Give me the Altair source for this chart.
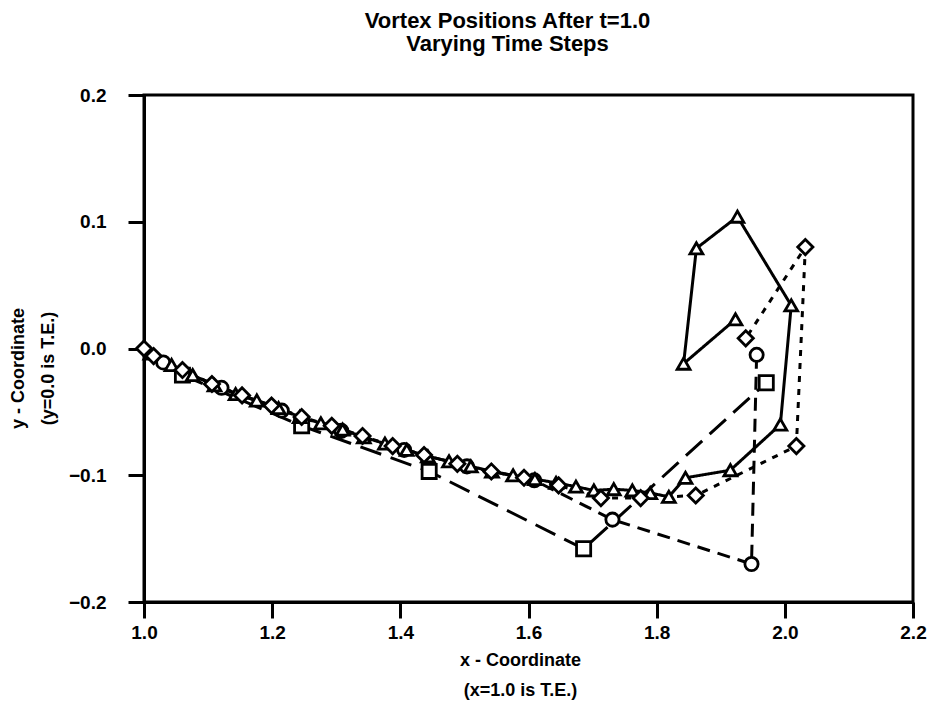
import altair as alt
import pandas as pd

# Vortex positions at t = 1.0 for four time-step sizes
SQ_X = [1.060, 1.246, 1.445, 1.686, 1.971]
SQ_Y = [-0.021, -0.061, -0.097, -0.158, -0.027]

CI_X = [1.030, 1.121, 1.215, 1.308, 1.406, 1.504, 1.609, 1.731, 1.948, 1.956]
CI_Y = [-0.011, -0.031, -0.049, -0.065, -0.080, -0.093, -0.104, -0.135, -0.170, -0.005]

TR_X = [1.010, 1.043, 1.076, 1.110, 1.143, 1.176, 1.210, 1.243, 1.276,
        1.310, 1.343, 1.376, 1.410, 1.443, 1.476, 1.510, 1.543, 1.576, 1.610,
        1.643, 1.674, 1.702, 1.733, 1.762, 1.790, 1.819, 1.845, 1.915, 1.993,
        2.010, 1.926, 1.862, 1.842, 1.923]
TR_Y = [-0.004, -0.013, -0.021, -0.029, -0.036, -0.041, -0.047, -0.054, -0.059,
        -0.064, -0.070, -0.075, -0.080, -0.085, -0.089, -0.093, -0.097, -0.100, -0.103,
        -0.106, -0.109, -0.112, -0.111, -0.112, -0.114, -0.117, -0.102, -0.096, -0.060,
        0.034, 0.104, 0.079, -0.012, 0.023]

DI_X = [1.000, 1.015, 1.060, 1.106, 1.153, 1.199, 1.246, 1.293, 1.341, 1.388,
        1.437, 1.489, 1.542, 1.593, 1.647, 1.713, 1.775, 1.861, 2.018, 2.032, 1.939]
DI_Y = [0.000, -0.006, -0.017, -0.028, -0.037, -0.045, -0.054, -0.061, -0.069, -0.077,
        -0.084, -0.091, -0.097, -0.102, -0.108, -0.118, -0.118, -0.116, -0.077, 0.080, 0.008]

FONT = "Liberation Sans"

# (x values, y values, marker shape, dash pattern, marker size)
SERIES = [
    (SQ_X, SQ_Y, "square", [22, 10], 200),
    (CI_X, CI_Y, "circle", [13, 8], 175),
    (TR_X, TR_Y, "triangle-up", [1, 0], 165),
    (DI_X, DI_Y, "diamond", [6, 7], 230),
]

x_scale = alt.Scale(domain=[1.0, 2.2], nice=False, zero=False)
y_scale = alt.Scale(domain=[-0.2, 0.2], nice=False, zero=False)

x_axis = alt.Axis(
    values=[1.0, 1.2, 1.4, 1.6, 1.8, 2.0, 2.2], format=".1f", grid=False,
    title=["x - Coordinate", "(x=1.0 is T.E.)"],
    titleFont=FONT, titleFontSize=18, titleFontWeight="bold", titleColor="black",
    titleLineHeight=30, titleBaseline="top", titleY=49, titleX=376, titleAnchor="start",
    titleAlign="center",
    labelFont=FONT, labelFontSize=19, labelFontWeight="bold", labelColor="black",
    labelPadding=5, tickSize=16, tickWidth=3, tickColor="black",
    domainColor="black", domainWidth=3, labelFlush=False,
)
y_axis = alt.Axis(
    values=[-0.2, -0.1, 0.0, 0.1, 0.2], format=".1f", grid=False,
    title=["y - Coordinate", "(y=0.0 is T.E.)"],
    titleFont=FONT, titleFontSize=18, titleFontWeight="bold", titleColor="black",
    titleLineHeight=30, titleBaseline="top", titleX=-135, titleY=273, titleAngle=-90,
    titleAlign="center", titleAnchor="start",
    labelFont=FONT, labelFontSize=19, labelFontWeight="bold", labelColor="black",
    labelPadding=22, tickSize=16, tickWidth=3, tickColor="black",
    domainColor="black", domainWidth=3, labelFlush=False,
)

enc_x = alt.X("x:Q", scale=x_scale, axis=x_axis)
enc_y = alt.Y("y:Q", scale=y_scale, axis=y_axis)

lines = []
points = []
for xs, ys, shape, dash, size in SERIES:
    df = pd.DataFrame({"x": xs, "y": ys, "i": list(range(len(xs)))})
    base = alt.Chart(df)
    lines.append(
        base.mark_line(color="black", strokeWidth=3, strokeDash=dash)
        .encode(x=enc_x, y=enc_y, order="i:Q")
    )
    points.append(
        base.mark_point(shape=shape, size=size, filled=True, fill="white",
                        stroke="black", strokeWidth=2.8, opacity=1)
        .encode(x=enc_x, y=enc_y)
    )

chart = (
    alt.layer(*lines, *points)
    .properties(
        width=769, height=507,
        padding={"left": 144, "top": 95, "right": 14, "bottom": 124},
        autosize=alt.AutoSizeParams(type="none"),
        title=alt.TitleParams(
            text=["Vortex Positions After t=1.0", "Varying Time Steps"],
            font=FONT, fontSize=22, fontWeight="bold", color="black",
            lineHeight=23, anchor="middle", dx=-21, offset=30,
        ),
    )
    .configure(background="white")
    .configure_view(stroke="black", strokeWidth=3)
)

chart.save("out.html", embed_options={"renderer": "svg", "actions": False})
